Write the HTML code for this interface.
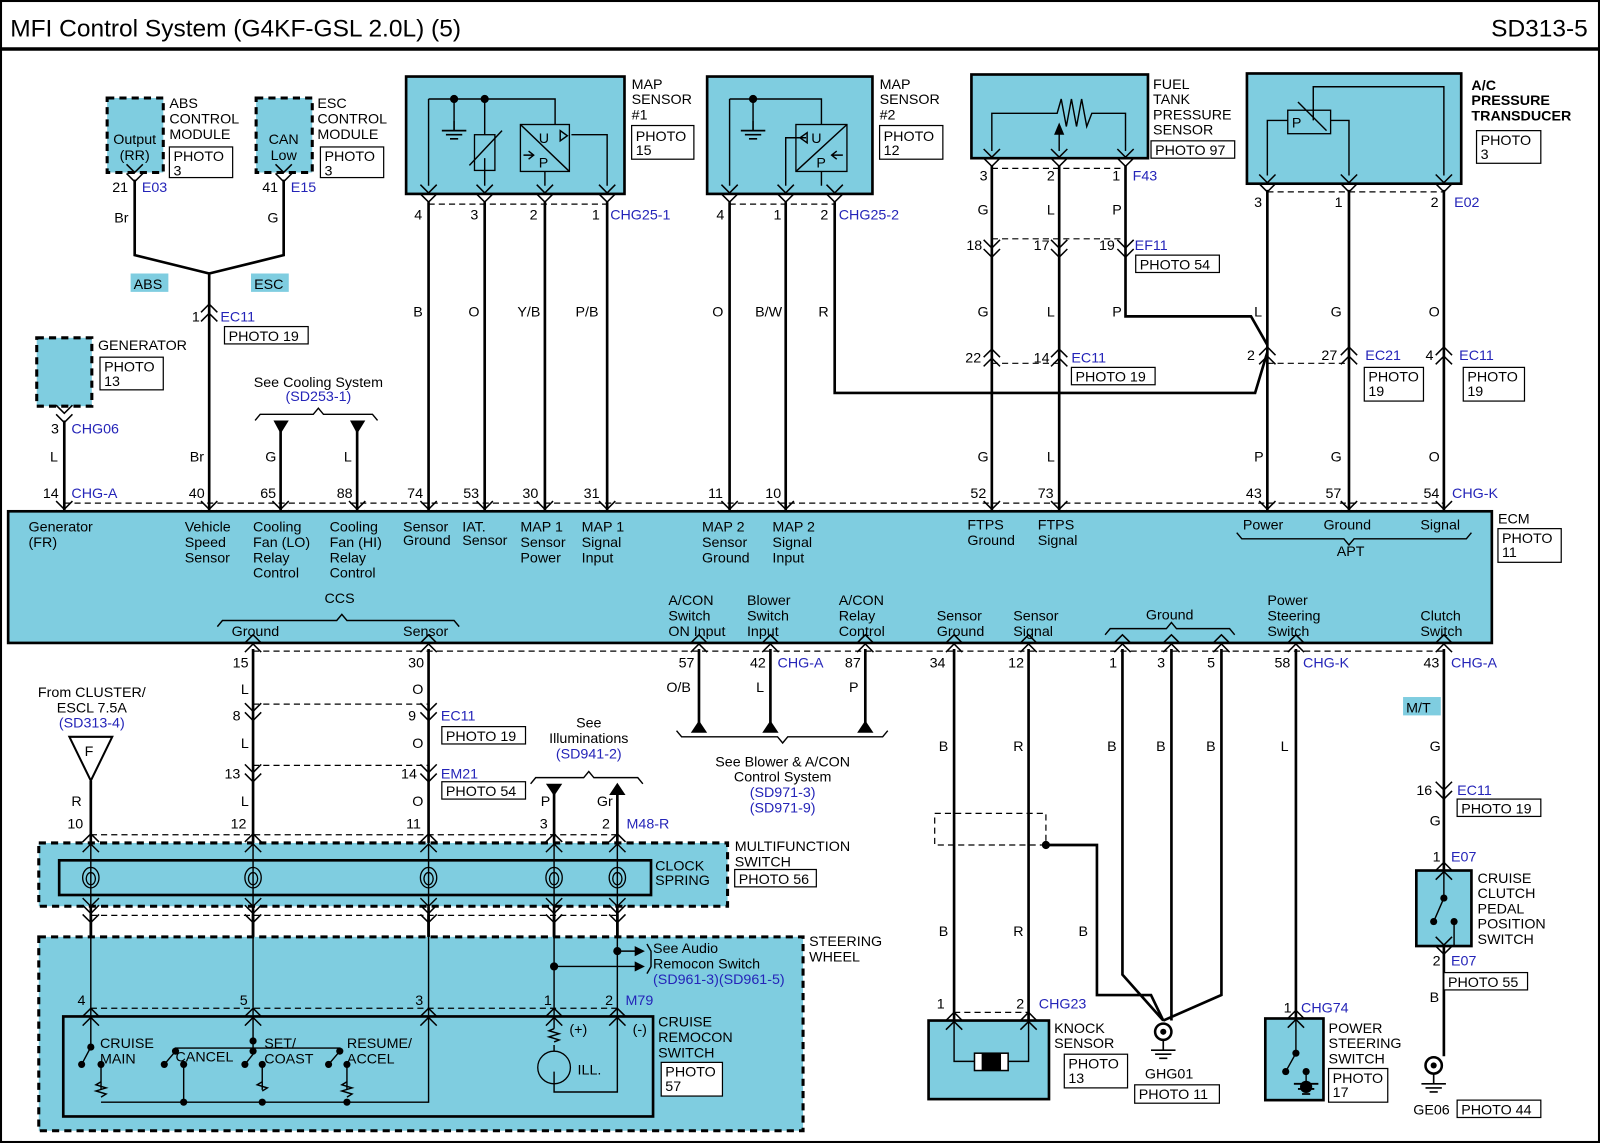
<!DOCTYPE html>
<html><head><meta charset="utf-8"><style>
html,body{margin:0;padding:0;background:#fff}
svg{display:block}
text{font-family:"Liberation Sans",Arial,sans-serif;font-size:14px;fill:#000}
.b{fill:#2424b8}
.w{stroke:#000;stroke-width:2.6;fill:none}
.tn{stroke:#000;stroke-width:1.4;fill:none}
.d{stroke:#000;stroke-width:1.2;fill:none;stroke-dasharray:6 4}
.bx{fill:#7fcde0;stroke:#000;stroke-width:2.6}
.db{fill:#7fcde0;stroke:#000;stroke-width:3;stroke-dasharray:7 5}
.pb{fill:#fff;stroke:#000;stroke-width:1.2}
</style></head><body>
<svg width="1600" height="1143" viewBox="0 0 1568 1120" preserveAspectRatio="none" xmlns="http://www.w3.org/2000/svg">
<defs>
<path id="c" d="M-8,-9L0,-1L8,-9M-8,0L0,8L8,0" fill="none" stroke="#000" stroke-width="1.5"/>
<path id="cu" d="M-8,9L0,1L8,9M-8,0L0,-8L8,0" fill="none" stroke="#000" stroke-width="1.5"/>
<g id="cs"><ellipse cx="0" cy="0" rx="8" ry="10" fill="none" stroke="#000" stroke-width="1.3"/><ellipse cx="0" cy="1" rx="4.5" ry="6" fill="none" stroke="#000" stroke-width="1.3"/></g>
<g id="gnd"><path d="M0,0V10M-12,10H12M-8,14H8M-4,18H4" stroke="#000" stroke-width="1.6" fill="none"/></g>
</defs>
<rect x="1" y="1" width="1566" height="1118" fill="#fff" stroke="#000" stroke-width="2"/>
<line x1="0" y1="48" x2="1568" y2="48" stroke="#000" stroke-width="3.5"/>
<text x="10" y="36" style="font-size:24px">MFI Control System (G4KF-GSL 2.0L) (5)</text>
<text x="1556" y="36" text-anchor="end" style="font-size:24px">SD313-5</text>

<!-- ABS / ESC -->
<rect x="105" y="96" width="55" height="73" class="db"/>
<text x="132" y="141" text-anchor="middle">Output</text><text x="132" y="157" text-anchor="middle">(RR)</text>
<text x="166" y="106">ABS</text><text x="166" y="121">CONTROL</text><text x="166" y="136">MODULE</text>
<rect x="166" y="144" width="62" height="30" class="pb"/><text x="170" y="158">PHOTO</text><text x="170" y="172">3</text>
<rect x="251" y="96" width="55" height="73" class="db"/>
<text x="278" y="141" text-anchor="middle">CAN</text><text x="278" y="157" text-anchor="middle">Low</text>
<text x="311" y="106">ESC</text><text x="311" y="121">CONTROL</text><text x="311" y="136">MODULE</text>
<rect x="314" y="144" width="62" height="30" class="pb"/><text x="318" y="158">PHOTO</text><text x="318" y="172">3</text>
<use href="#c" x="132" y="170"/><use href="#c" x="278" y="170"/>
<text x="110" y="188">21</text><text x="139" y="188" class="b">E03</text>
<text x="257" y="188">41</text><text x="285" y="188" class="b">E15</text>
<path class="w" d="M132,176V250L205,268M278,176V250L205,268V500"/>
<text x="112" y="218">Br</text><text x="262" y="218">G</text>
<rect x="128" y="268" width="37" height="18" fill="#7fcde0"/><text x="131" y="283">ABS</text>
<rect x="246" y="268" width="37" height="18" fill="#7fcde0"/><text x="249" y="283">ESC</text>
<use href="#cu" x="205" y="306"/>
<text x="188" y="315">1</text><text x="216" y="315" class="b">EC11</text>
<rect x="220" y="320" width="82" height="17" class="pb"/><text x="224" y="334">PHOTO 19</text>
<text x="186" y="452">Br</text>

<!-- Generator -->
<rect x="36" y="331" width="54" height="67" class="db"/>
<text x="96" y="343">GENERATOR</text>
<rect x="98" y="350" width="62" height="32" class="pb"/><text x="102" y="364">PHOTO</text><text x="102" y="378">13</text>
<use href="#c" x="63" y="406"/>
<text x="50" y="425">3</text><text x="70" y="425" class="b">CHG06</text>
<path class="w" d="M63,412V500"/><text x="49" y="452">L</text>

<!-- cooling -->
<text x="312" y="379" text-anchor="middle">See Cooling System</text>
<text x="312" y="393" text-anchor="middle" class="b">(SD253-1)</text>
<path class="tn" d="M250,412L255,406H307L312,400L317,406H365L370,412"/>
<path d="M268,412H283L275,425Z M343,412H358L350,425Z" fill="#000"/>
<path class="w" d="M275,420V500M350,420V500"/>
<text x="260" y="452">G</text><text x="337" y="452">L</text>

<!-- MAP sensor 1 -->
<rect x="398" y="75" width="214" height="115" class="bx"/>
<path class="tn" d="M420,97H544V122M445,97V118M475,97V132M475,155V182M420,97V182M534,168V182M560,132H595V182"/>
<use href="#gnd" x="445" y="118"/>
<circle cx="445" cy="97" r="4"/><circle cx="475" cy="97" r="4"/>
<rect x="465" y="132" width="20" height="35" fill="none" stroke="#000" stroke-width="1.3"/>
<path class="tn" d="M460,162L492,128"/>
<rect x="510" y="122" width="48" height="46" fill="none" stroke="#000" stroke-width="1.3"/>
<path class="tn" d="M510,122L558,168M549,128L556,133L549,138Z M513,152H522M518,148L523,152L518,156"/>
<text x="528" y="140">U</text><text x="528" y="164">P</text>
<text x="619" y="87">MAP</text><text x="619" y="102">SENSOR</text><text x="619" y="117">#1</text>
<rect x="619" y="123" width="61" height="33" class="pb"/><text x="623" y="138">PHOTO</text><text x="623" y="152">15</text>
<use href="#c" x="420" y="190"/><use href="#c" x="475" y="190"/><use href="#c" x="534" y="190"/><use href="#c" x="595" y="190"/>
<line class="d" x1="420" y1="200" x2="595" y2="200"/>
<text x="406" y="215">4</text><text x="461" y="215">3</text><text x="519" y="215">2</text><text x="580" y="215">1</text><text x="598" y="215" class="b">CHG25-1</text>
<path class="w" d="M420,198V500M475,198V500M534,198V500M595,198V500"/>
<text x="405" y="310">B</text><text x="459" y="310">O</text><text x="507" y="310">Y/B</text><text x="564" y="310">P/B</text>

<!-- MAP sensor 2 -->
<rect x="693" y="75" width="162" height="115" class="bx"/>
<path class="tn" d="M715,97H805V122M738,97V118M715,97V182M805,168V182M790,135H770V182"/>
<use href="#gnd" x="738" y="118"/>
<circle cx="738" cy="97" r="4"/>
<rect x="780" y="122" width="50" height="46" fill="none" stroke="#000" stroke-width="1.3"/>
<path class="tn" d="M830,122L780,168M791,130L784,135L791,140Z M826,152H815M820,148L815,152L820,156"/>
<text x="795" y="140">U</text><text x="800" y="164">P</text>
<text x="862" y="87">MAP</text><text x="862" y="102">SENSOR</text><text x="862" y="117">#2</text>
<rect x="862" y="123" width="62" height="33" class="pb"/><text x="866" y="138">PHOTO</text><text x="866" y="152">12</text>
<use href="#c" x="715" y="190"/><use href="#c" x="770" y="190"/><use href="#c" x="818" y="190"/>
<line class="d" x1="715" y1="200" x2="818" y2="200"/>
<text x="702" y="215">4</text><text x="758" y="215">1</text><text x="804" y="215">2</text><text x="822" y="215" class="b">CHG25-2</text>
<path class="w" d="M715,198V500M770,198V500M818,198V385H1230L1242,345"/>
<text x="698" y="310">O</text><text x="740" y="310">B/W</text><text x="802" y="310">R</text>

<!-- Fuel tank pressure sensor -->
<rect x="952" y="73" width="173" height="82" class="bx"/>
<path class="tn" d="M972,148V111H1036L1040,97L1045,124L1050,97L1055,124L1060,97L1065,124L1070,111H1103V148M1038,148V126"/>
<path d="M1033,132H1043L1038,120Z" fill="#000"/>
<text x="1130" y="87">FUEL</text><text x="1130" y="102">TANK</text><text x="1130" y="117">PRESSURE</text><text x="1130" y="132">SENSOR</text>
<rect x="1128" y="138" width="82" height="17" class="pb"/><text x="1132" y="152">PHOTO 97</text>
<use href="#c" x="972" y="155"/><use href="#c" x="1038" y="155"/><use href="#c" x="1103" y="155"/>
<line class="d" x1="972" y1="165" x2="1103" y2="165"/>
<text x="960" y="177">3</text><text x="1026" y="177">2</text><text x="1090" y="177">1</text><text x="1110" y="177" class="b">F43</text>
<path class="w" d="M972,162V500M1038,162V500M1103,162V310H1226L1242,338"/>
<text x="958" y="210">G</text><text x="1026" y="210">L</text><text x="1090" y="210">P</text>
<use href="#c" x="972" y="244"/><use href="#c" x="1038" y="244"/><use href="#c" x="1103" y="244"/>
<path class="d" d="M972,234H1103"/>
<text x="947" y="245">18</text><text x="1013" y="245">17</text><text x="1077" y="245">19</text><text x="1112" y="245" class="b">EF11</text>
<rect x="1113" y="250" width="82" height="17" class="pb"/><text x="1117" y="264">PHOTO 54</text>
<text x="958" y="310">G</text><text x="1026" y="310">L</text><text x="1090" y="310">P</text>
<use href="#cu" x="972" y="350"/><use href="#cu" x="1038" y="350"/>
<path class="d" d="M972,356H1038"/>
<text x="946" y="355">22</text><text x="1013" y="355">14</text><text x="1050" y="355" class="b">EC11</text>
<rect x="1050" y="360" width="82" height="17" class="pb"/><text x="1054" y="374">PHOTO 19</text>
<text x="958" y="452">G</text><text x="1026" y="452">L</text>

<!-- A/C pressure -->
<rect x="1222" y="72" width="210" height="108" class="bx"/>
<path class="tn" d="M1242,172V118H1262M1304,118H1322V172M1287,118V85H1415V172"/>
<rect x="1262" y="108" width="42" height="23" fill="none" stroke="#000" stroke-width="1.3"/>
<path class="tn" d="M1272,100L1300,128"/><text x="1266" y="125">P</text>
<text x="1442" y="88" style="font-weight:bold">A/C</text><text x="1442" y="103" style="font-weight:bold">PRESSURE</text><text x="1442" y="118" style="font-weight:bold">TRANSDUCER</text>
<rect x="1447" y="128" width="63" height="32" class="pb"/><text x="1451" y="142">PHOTO</text><text x="1451" y="156">3</text>
<use href="#c" x="1242" y="180"/><use href="#c" x="1322" y="180"/><use href="#c" x="1415" y="180"/>
<line class="d" x1="1242" y1="188" x2="1415" y2="188"/>
<text x="1229" y="203">3</text><text x="1308" y="203">1</text><text x="1402" y="203">2</text><text x="1425" y="203" class="b">E02</text>
<path class="w" d="M1242,186V500M1322,186V500M1415,186V500"/>
<text x="1229" y="310">L</text><text x="1304" y="310">G</text><text x="1400" y="310">O</text>
<use href="#cu" x="1242" y="348"/><use href="#cu" x="1322" y="348"/><use href="#cu" x="1415" y="348"/>
<path class="d" d="M1242,356H1322"/>
<text x="1222" y="353">2</text><text x="1295" y="353">27</text><text x="1338" y="353" class="b">EC21</text><text x="1397" y="353">4</text><text x="1430" y="353" class="b">EC11</text>
<rect x="1337" y="360" width="58" height="33" class="pb"/><text x="1341" y="374">PHOTO</text><text x="1341" y="388">19</text>
<rect x="1434" y="360" width="60" height="33" class="pb"/><text x="1438" y="374">PHOTO</text><text x="1438" y="388">19</text>
<text x="1229" y="452">P</text><text x="1304" y="452">G</text><text x="1400" y="452">O</text>

<!-- ECM top pins -->
<line class="d" x1="63" y1="493" x2="1415" y2="493"/>
<g>
<use href="#c" x="63" y="500"/><use href="#c" x="205" y="500"/><use href="#c" x="275" y="500"/><use href="#c" x="350" y="500"/>
<use href="#c" x="420" y="500"/><use href="#c" x="475" y="500"/><use href="#c" x="534" y="500"/><use href="#c" x="595" y="500"/>
<use href="#c" x="715" y="500"/><use href="#c" x="770" y="500"/><use href="#c" x="972" y="500"/><use href="#c" x="1038" y="500"/>
<use href="#c" x="1242" y="500"/><use href="#c" x="1322" y="500"/><use href="#c" x="1415" y="500"/>
</g>
<text x="42" y="488">14</text><text x="70" y="488" class="b">CHG-A</text>
<text x="185" y="488">40</text><text x="255" y="488">65</text><text x="330" y="488">88</text>
<text x="399" y="488">74</text><text x="454" y="488">53</text><text x="512" y="488">30</text><text x="572" y="488">31</text>
<text x="694" y="488">11</text><text x="750" y="488">10</text><text x="951" y="488">52</text><text x="1017" y="488">73</text>
<text x="1221" y="488">43</text><text x="1299" y="488">57</text><text x="1395" y="488">54</text><text x="1423" y="488" class="b">CHG-K</text>

<!-- ECM -->
<rect x="8" y="501" width="1454" height="129" class="bx"/>
<text x="1468" y="513">ECM</text>
<rect x="1468" y="518" width="62" height="33" class="pb"/><text x="1472" y="532">PHOTO</text><text x="1472" y="546">11</text>
<text x="28" y="521">Generator</text><text x="28" y="536">(FR)</text>
<text x="181" y="521">Vehicle</text><text x="181" y="536">Speed</text><text x="181" y="551">Sensor</text>
<text x="248" y="521">Cooling</text><text x="248" y="536">Fan (LO)</text><text x="248" y="551">Relay</text><text x="248" y="566">Control</text>
<text x="323" y="521">Cooling</text><text x="323" y="536">Fan (HI)</text><text x="323" y="551">Relay</text><text x="323" y="566">Control</text>
<text x="395" y="521">Sensor</text><text x="395" y="534">Ground</text>
<text x="453" y="521">IAT.</text><text x="453" y="534">Sensor</text>
<text x="510" y="521">MAP 1</text><text x="510" y="536">Sensor</text><text x="510" y="551">Power</text>
<text x="570" y="521">MAP 1</text><text x="570" y="536">Signal</text><text x="570" y="551">Input</text>
<text x="688" y="521">MAP 2</text><text x="688" y="536">Sensor</text><text x="688" y="551">Ground</text>
<text x="757" y="521">MAP 2</text><text x="757" y="536">Signal</text><text x="757" y="551">Input</text>
<text x="948" y="519">FTPS</text><text x="948" y="534">Ground</text>
<text x="1017" y="519">FTPS</text><text x="1017" y="534">Signal</text>
<text x="1218" y="519">Power</text><text x="1297" y="519">Ground</text><text x="1392" y="519">Signal</text>
<path class="tn" d="M1212,522L1217,528H1317L1322,534L1327,528H1437L1442,522"/>
<text x="1310" y="545">APT</text>
<text x="318" y="591">CCS</text>
<path class="tn" d="M213,614L218,608H330L335,602L340,608H445L450,614"/>
<text x="227" y="623">Ground</text><text x="395" y="623">Sensor</text>
<text x="655" y="593">A/CON</text><text x="655" y="608">Switch</text><text x="655" y="623">ON Input</text>
<text x="732" y="593">Blower</text><text x="732" y="608">Switch</text><text x="732" y="623">Input</text>
<text x="822" y="593">A/CON</text><text x="822" y="608">Relay</text><text x="822" y="623">Control</text>
<text x="918" y="608">Sensor</text><text x="918" y="623">Ground</text>
<text x="993" y="608">Sensor</text><text x="993" y="623">Signal</text>
<text x="1123" y="607">Ground</text>
<path class="tn" d="M1083,622L1088,616H1143L1148,610L1153,616H1205L1210,622"/>
<text x="1242" y="593">Power</text><text x="1242" y="608">Steering</text><text x="1242" y="623">Switch</text>
<text x="1392" y="608">Clutch</text><text x="1392" y="623">Switch</text>

<!-- ECM bottom pins -->
<line class="d" x1="248" y1="638" x2="1415" y2="638"/>
<g>
<use href="#cu" x="248" y="630"/><use href="#cu" x="420" y="630"/><use href="#cu" x="685" y="630"/><use href="#cu" x="755" y="630"/>
<use href="#cu" x="848" y="630"/><use href="#cu" x="935" y="630"/><use href="#cu" x="1008" y="630"/><use href="#cu" x="1100" y="630"/>
<use href="#cu" x="1148" y="630"/><use href="#cu" x="1197" y="630"/><use href="#cu" x="1270" y="630"/><use href="#cu" x="1415" y="630"/>
</g>
<text x="228" y="654">15</text><text x="400" y="654">30</text><text x="665" y="654">57</text><text x="735" y="654">42</text><text x="762" y="654" class="b">CHG-A</text>
<text x="828" y="654">87</text><text x="911" y="654">34</text><text x="988" y="654">12</text><text x="1087" y="654">1</text><text x="1134" y="654">3</text>
<text x="1183" y="654">5</text><text x="1249" y="654">58</text><text x="1277" y="654" class="b">CHG-K</text><text x="1395" y="654">43</text><text x="1422" y="654" class="b">CHG-A</text>

<!-- CCS wires -->
<path class="w" d="M248,636V1000M420,636V1000"/>
<text x="236" y="680">L</text><text x="404" y="680">O</text>
<use href="#c" x="248" y="698"/><use href="#c" x="420" y="698"/>
<path class="d" d="M248,690H420"/>
<text x="228" y="706">8</text><text x="400" y="706">9</text><text x="432" y="706" class="b">EC11</text>
<rect x="433" y="712" width="82" height="17" class="pb"/><text x="437" y="726">PHOTO 19</text>
<text x="236" y="733">L</text><text x="404" y="733">O</text>
<use href="#c" x="248" y="758"/><use href="#c" x="420" y="758"/>
<path class="d" d="M248,750H420"/>
<text x="220" y="763">13</text><text x="393" y="763">14</text><text x="432" y="763" class="b">EM21</text>
<rect x="433" y="766" width="82" height="17" class="pb"/><text x="437" y="780">PHOTO 54</text>
<text x="236" y="790">L</text><text x="404" y="790">O</text>

<!-- fuse -->
<text x="90" y="683" text-anchor="middle">From CLUSTER/</text><text x="90" y="698" text-anchor="middle">ESCL 7.5A</text><text x="90" y="713" text-anchor="middle" class="b">(SD313-4)</text>
<path d="M68,722H110L89,765Z" fill="#fff" stroke="#000" stroke-width="2"/>
<text x="83" y="741">F</text>
<path class="w" d="M89,765V1000"/>
<text x="70" y="790">R</text>

<!-- illuminations -->
<text x="577" y="713" text-anchor="middle">See</text><text x="577" y="728" text-anchor="middle">Illuminations</text><text x="577" y="743" text-anchor="middle" class="b">(SD941-2)</text>
<path class="tn" d="M520,768L525,762H572L577,756L582,762H625L630,768"/>
<path d="M535,768H551L543,780Z M597,779H613L605,767Z" fill="#000"/>
<path class="w" d="M543,775V1000M605,775V1000"/>
<text x="530" y="790">P</text><text x="585" y="790">Gr</text>

<text x="66" y="812">10</text><text x="226" y="812">12</text><text x="398" y="812">11</text><text x="529" y="812">3</text><text x="590" y="812">2</text><text x="614" y="812" class="b">M48-R</text>
<path class="d" d="M89,818H605"/>
<g><use href="#cu" x="89" y="825"/><use href="#cu" x="248" y="825"/><use href="#cu" x="420" y="825"/><use href="#cu" x="543" y="825"/><use href="#cu" x="605" y="825"/></g>

<!-- multifunction switch -->
<rect x="38" y="826" width="675" height="62" class="db"/>
<rect x="58" y="843" width="580" height="34" fill="none" stroke="#000" stroke-width="2.6"/>
<path class="tn" d="M89,826V888M248,826V888M420,826V888M543,826V888M605,826V888"/>
<use href="#cs" x="89" y="860"/><use href="#cs" x="248" y="860"/><use href="#cs" x="420" y="860"/><use href="#cs" x="543" y="860"/><use href="#cs" x="605" y="860"/>
<path class="tn" d="M81,835L89,827L97,835M81,880L89,888L97,880M240,835L248,827L256,835M240,880L248,888L256,880M412,835L420,827L428,835M412,880L420,888L428,880M535,835L543,827L551,835M535,880L543,888L551,880M597,835L605,827L613,835M597,880L605,888L613,880"/>
<text x="642" y="853">CLOCK</text><text x="642" y="867">SPRING</text>
<text x="720" y="834">MULTIFUNCTION</text><text x="720" y="849">SWITCH</text>
<rect x="720" y="852" width="80" height="17" class="pb"/><text x="724" y="866">PHOTO 56</text>
<g><use href="#c" x="89" y="896"/><use href="#c" x="248" y="896"/><use href="#c" x="420" y="896"/><use href="#c" x="543" y="896"/><use href="#c" x="605" y="896"/></g>
<path class="d" d="M89,897H605"/>

<!-- steering wheel -->
<rect x="38" y="918" width="749" height="190" class="db"/>
<path class="w" d="M89,896V918M248,896V918M420,896V918M543,896V918M605,896V918"/>
<path class="tn" d="M89,918V995M248,918V995M420,918V995M543,918V995M605,918V995M605,932H625M543,947H625"/>
<path d="M622,927L632,932L622,937Z M622,942L632,947L622,952Z" fill="#000"/>
<circle cx="605" cy="932" r="4"/><circle cx="543" cy="947" r="4"/>
<path class="tn" d="M634,925L638,932V947L634,954"/>
<text x="640" y="934">See Audio</text><text x="640" y="949">Remocon Switch</text><text x="640" y="964" class="b">(SD961-3)(SD961-5)</text>
<text x="793" y="927">STEERING</text><text x="793" y="942">WHEEL</text>
<text x="76" y="985">4</text><text x="235" y="985">5</text><text x="407" y="985">3</text><text x="533" y="985">1</text><text x="593" y="985">2</text><text x="613" y="985" class="b">M79</text>
<path class="d" d="M89,988H605"/>
<g><use href="#cu" x="89" y="996"/><use href="#cu" x="248" y="996"/><use href="#cu" x="420" y="996"/><use href="#cu" x="543" y="996"/><use href="#cu" x="605" y="996"/></g>
<rect x="62" y="996" width="578" height="98" fill="none" stroke="#000" stroke-width="2.6"/>
<!-- switches -->
<path class="tn" d="M89,996V1026L80,1043M99,1043V1068M248,996V1027M248,1027H172V1030M248,1027H333V1030M248,1030V1030M172,1030L161,1043M248,1033L240,1043M333,1030L322,1043M180,1043V1080M257,1043V1068M340,1043V1068M99,1080H420V996M543,996V1008M543,1024V1030M543,1050V1070H605V996"/>
<path class="tn" d="M99,1060l-5,3l10,3l-10,3l10,3l-5,3M257,1060l-5,3l10,3l-5,3M340,1060l-5,3l10,3l-10,3l10,3l-5,3M543,1008l-5,2l10,3l-10,3l10,3l-5,2"/>
<g fill="#000"><circle cx="89" cy="1026" r="3.5"/><circle cx="80" cy="1043" r="3.5"/><circle cx="99" cy="1043" r="3.5"/>
<circle cx="172" cy="1030" r="3.5"/><circle cx="161" cy="1043" r="3.5"/><circle cx="180" cy="1043" r="3.5"/>
<circle cx="248" cy="1030" r="3.5"/><circle cx="248" cy="1020" r="3.5"/><circle cx="240" cy="1043" r="3.5"/><circle cx="257" cy="1043" r="3.5"/>
<circle cx="333" cy="1030" r="3.5"/><circle cx="322" cy="1043" r="3.5"/><circle cx="340" cy="1043" r="3.5"/>
<circle cx="180" cy="1080" r="3.5"/><circle cx="257" cy="1080" r="3.5"/><circle cx="340" cy="1080" r="3.5"/></g>
<circle cx="543" cy="1046" r="16" fill="none" stroke="#000" stroke-width="1.3"/>
<text x="98" y="1027">CRUISE</text><text x="98" y="1042">MAIN</text>
<text x="172" y="1040">CANCEL</text>
<text x="259" y="1027">SET/</text><text x="259" y="1042">COAST</text>
<text x="340" y="1027">RESUME/</text><text x="340" y="1042">ACCEL</text>
<text x="558" y="1013">(+)</text><text x="620" y="1013">(-)</text><text x="566" y="1053">ILL.</text>
<text x="645" y="1006">CRUISE</text><text x="645" y="1021">REMOCON</text><text x="645" y="1036">SWITCH</text>
<rect x="648" y="1041" width="60" height="33" class="pb"/><text x="652" y="1055">PHOTO</text><text x="652" y="1069">57</text>

<!-- blower -->
<path class="w" d="M685,636V712M755,636V712M848,636V712"/>
<path d="M677,718H693L685,706Z M747,718H763L755,706Z M840,718H856L848,706Z" fill="#000"/>
<text x="653" y="678">O/B</text><text x="741" y="678">L</text><text x="832" y="678">P</text>
<path class="tn" d="M663,716L668,722H762L767,728L772,722H865L870,716"/>
<text x="767" y="751" text-anchor="middle">See Blower &amp; A/CON</text><text x="767" y="766" text-anchor="middle">Control System</text>
<text x="767" y="781" text-anchor="middle" class="b">(SD971-3)</text><text x="767" y="796" text-anchor="middle" class="b">(SD971-9)</text>

<!-- knock sensor -->
<path class="w" d="M935,636V1000M1008,636V1000"/>
<text x="920" y="736">B</text><text x="993" y="736">R</text><text x="920" y="917">B</text><text x="993" y="917">R</text>
<rect x="916" y="797" width="109" height="31" fill="none" stroke="#000" stroke-width="1.2" stroke-dasharray="6 4"/>
<circle cx="1025" cy="828" r="4"/>
<path class="w" d="M1025,828H1075V975H1128L1140,1000M1100,636V955L1140,1000M1148,636V1000M1197,636V975L1140,1000"/>
<text x="1057" y="917">B</text><text x="1085" y="736">B</text><text x="1133" y="736">B</text><text x="1182" y="736">B</text>
<circle cx="1140" cy="1011" r="8" fill="#fff" stroke="#000" stroke-width="2.5"/><circle cx="1140" cy="1011" r="3"/>
<use href="#gnd" x="1140" y="1019"/>
<text x="1122" y="1057">GHG01</text>
<rect x="1112" y="1063" width="83" height="18" class="pb"/><text x="1116" y="1077">PHOTO 11</text>
<text x="918" y="988">1</text><text x="996" y="988">2</text><text x="1018" y="988" class="b">CHG23</text>
<path class="d" d="M935,992H1008"/>
<rect x="910" y="1000" width="118" height="77" class="bx"/>
<use href="#c" x="935" y="1000" transform="rotate(180 935 1000)"/><use href="#c" x="1008" y="1000" transform="rotate(180 1008 1000)"/>
<path class="tn" d="M935,1000V1040H955M1008,1000V1040H988"/>
<rect x="955" y="1032" width="33" height="17" fill="#fff" stroke="#000" stroke-width="1.5"/>
<rect x="962" y="1032" width="19" height="17" fill="#000"/>
<text x="1033" y="1012">KNOCK</text><text x="1033" y="1027">SENSOR</text>
<rect x="1043" y="1033" width="62" height="33" class="pb"/><text x="1047" y="1047">PHOTO</text><text x="1047" y="1061">13</text>

<!-- power steering -->
<path class="w" d="M1270,636V998"/>
<text x="1255" y="736">L</text>
<text x="1258" y="992">1</text><text x="1275" y="992" class="b">CHG74</text>
<rect x="1240" y="998" width="57" height="80" class="bx"/>
<use href="#c" x="1270" y="998" transform="rotate(180 1270 998)"/>
<path class="tn" d="M1270,998V1032L1260,1050M1280,1050V1060"/>
<circle cx="1270" cy="1032" r="3.5"/><circle cx="1260" cy="1050" r="3.5"/><circle cx="1280" cy="1050" r="3.5"/>
<path d="M1268,1062H1292M1272,1067H1288M1276,1072H1284" stroke="#000" stroke-width="1.8"/>
<circle cx="1280" cy="1065" r="6" fill="#000"/>
<text x="1302" y="1012">POWER</text><text x="1302" y="1027">STEERING</text><text x="1302" y="1042">SWITCH</text>
<rect x="1302" y="1047" width="58" height="33" class="pb"/><text x="1306" y="1061">PHOTO</text><text x="1306" y="1075">17</text>

<!-- clutch -->
<path class="w" d="M1415,636V852M1415,927V1035"/>
<rect x="1375" y="683" width="37" height="18" fill="#7fcde0"/><text x="1378" y="698">M/T</text>
<text x="1401" y="736">G</text>
<use href="#c" x="1415" y="775"/>
<text x="1388" y="779">16</text><text x="1428" y="779" class="b">EC11</text>
<rect x="1428" y="783" width="82" height="17" class="pb"/><text x="1432" y="797">PHOTO 19</text>
<text x="1401" y="809">G</text>
<text x="1404" y="844">1</text><text x="1422" y="844" class="b">E07</text>
<rect x="1388" y="853" width="54" height="74" class="bx"/>
<use href="#cu" x="1415" y="853"/><use href="#c" x="1415" y="927"/>
<path class="tn" d="M1415,853V880L1405,903M1425,903V927"/>
<circle cx="1415" cy="880" r="3.5"/><circle cx="1405" cy="903" r="3.5"/><circle cx="1425" cy="903" r="3.5"/>
<text x="1448" y="865">CRUISE</text><text x="1448" y="880">CLUTCH</text><text x="1448" y="895">PEDAL</text><text x="1448" y="910">POSITION</text><text x="1448" y="925">SWITCH</text>
<text x="1404" y="946">2</text><text x="1422" y="946" class="b">E07</text>
<rect x="1415" y="953" width="82" height="17" class="pb"/><text x="1419" y="967">PHOTO 55</text>
<text x="1401" y="982">B</text>
<circle cx="1405" cy="1044" r="8" fill="#fff" stroke="#000" stroke-width="2.5"/><circle cx="1405" cy="1044" r="3"/>
<use href="#gnd" x="1405" y="1052"/>
<text x="1385" y="1092">GE06</text>
<rect x="1428" y="1078" width="82" height="17" class="pb"/><text x="1432" y="1092">PHOTO 44</text>
</svg>
</body></html>
